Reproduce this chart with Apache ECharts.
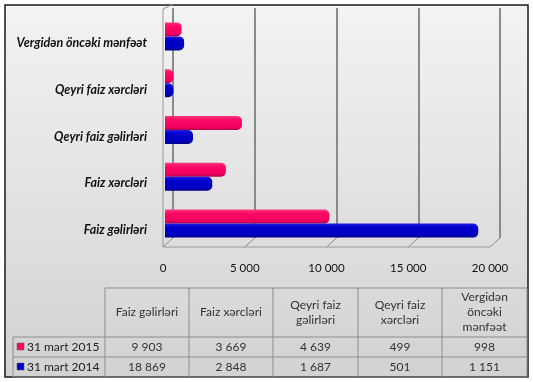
<!DOCTYPE html>
<html><head><meta charset="utf-8">
<script src="https://cdn.jsdelivr.net/npm/echarts@6/dist/echarts.min.js"></script>
<style>html,body{margin:0;padding:0;background:#fff}#c{width:533px;height:382px}</style>
</head><body><div id="c"></div>
<script>
const categories = ['Faiz gəlirləri','Faiz xərcləri','Qeyri faiz gəlirləri','Qeyri faiz xərcləri','Vergidən öncəki mənfəət'];
const tableHeaders = ['Faiz gəlirləri','Faiz xərcləri','Qeyri faiz\ngəlirləri','Qeyri faiz\nxərcləri','Vergidən\nöncəki\nmənfəət'];
const seriesNames = ['31 mart 2015','31 mart 2014'];
const values2015 = [9903,3669,4639,499,998];
const values2014 = [18869,2848,1687,501,1151];
const xTicks = [0,5000,10000,15000,20000];

const fmt = n => String(n).replace(/\B(?=(\d{3})+(?!\d))/g, ' ');
const FONT = 'Lato';
const G0 = {left:165, top:13, width:332, height:234};   // bars (mid-depth)
const G1 = {left:173, top:8, width:327, height:230};    // back wall
const G2 = {left:163, top:13, width:327, height:234};   // front floor edge / tick labels
const xMin = xTicks[0], xMax = xTicks[xTicks.length-1], xInt = xTicks[1]-xTicks[0];

const pinkGrad = new echarts.graphic.LinearGradient(0,0,0,1,[{offset:0,color:'#ff3a80'},{offset:0.25,color:'#ff0a64'},{offset:0.8,color:'#f00060'},{offset:1,color:'#b00044'}]);
const blueGrad = new echarts.graphic.LinearGradient(0,0,0,1,[{offset:0,color:'#2020e8'},{offset:0.25,color:'#0000cc'},{offset:0.8,color:'#0000c0'},{offset:1,color:'#000080'}]);

const chart = echarts.init(document.getElementById('c'), null, {renderer:'canvas'});

// table
const colX = [105,189,273,358,442,527];
const rowY = [288,337,357,377];
const legX = 13;
const tbl = [];
const line = (x1,y1,x2,y2)=>({type:'line',z:5,shape:{x1,y1,x2,y2},style:{stroke:'#8c8c8c',lineWidth:1}});
tbl.push(line(colX[0],rowY[0],colX[5],rowY[0]));
for (let r=1;r<rowY.length;r++) tbl.push(line(legX,rowY[r],colX[5],rowY[r]));
for (let c=0;c<colX.length;c++) tbl.push(line(colX[c],rowY[0],colX[c],rowY[3]));
tbl.push(line(legX,rowY[1],legX,rowY[3]));
tableHeaders.forEach((h,i)=>{
  tbl.push({type:'text',z:6,style:{text:h,x:(colX[i]+colX[i+1])/2,y:(rowY[0]+rowY[1])/2,align:'center',verticalAlign:'middle',font:'12px '+FONT,fill:'#333',lineHeight:15}});
});
const rows = [[seriesNames[0],values2015,'#ff0a64'],[seriesNames[1],values2014,'#0000cc']];
rows.forEach((r,ri)=>{
  const cy=(rowY[ri+1]+rowY[ri+2])/2;
  tbl.push({type:'rect',z:6,shape:{x:legX+4,y:cy-4,width:7,height:7},style:{fill:r[2],stroke:'#555',lineWidth:0.5}});
  tbl.push({type:'text',z:6,style:{text:r[0],x:legX+14,y:cy,align:'left',verticalAlign:'middle',font:'12px '+FONT,fill:'#222'}});
  r[1].forEach((v,i)=>{
    tbl.push({type:'text',z:6,style:{text:fmt(v),x:(colX[i]+colX[i+1])/2,y:cy,align:'center',verticalAlign:'middle',font:'12px '+FONT,fill:'#333'}});
  });
});

const bg = {type:'rect',z:-10,shape:{x:5,y:5,width:523,height:372},
  style:{fill:new echarts.graphic.LinearGradient(0,0,0,1,[{offset:0,color:'#f3f3f3'},{offset:1,color:'#d2d2d2'}]),stroke:'#1a1a1a',lineWidth:1.5}};

const option = {
  animation:false,
  backgroundColor:'#fff',
  grid:[G0,G1,G2],
  xAxis:[
    {type:'value',gridIndex:0,min:xMin,max:xMax,interval:xInt,show:false},
    {type:'value',gridIndex:1,min:xMin,max:xMax,interval:xInt,
     axisLine:{show:false},axisTick:{show:false},axisLabel:{show:false},
     splitLine:{show:true,lineStyle:{color:'#8a8a8a',width:2}}},
    {type:'value',gridIndex:2,min:xMin,max:xMax,interval:xInt,
     axisLine:{show:false},axisTick:{show:false},splitLine:{show:false},
     axisLabel:{margin:15,formatter:v=>fmt(v),color:'#111',fontSize:11.5,fontFamily:FONT}}
  ],
  yAxis:[
    {type:'category',gridIndex:0,show:false,data:categories},
    {type:'value',gridIndex:1,show:false},
    {type:'category',gridIndex:2,data:categories,
     axisLine:{show:false},axisTick:{show:false},
     axisLabel:{margin:16,verticalAlign:'top',color:'#111',fontSize:12.5,fontWeight:'bold',fontStyle:'italic',fontFamily:FONT}}
  ],
  series:[
    {name:seriesNames[0],type:'bar',xAxisIndex:0,yAxisIndex:0,data:values2015,barWidth:14,barGap:'0%',
     itemStyle:{color:pinkGrad,borderRadius:[0,5,5,0]}},
    {name:seriesNames[1],type:'bar',xAxisIndex:0,yAxisIndex:0,data:values2014,barWidth:14,barGap:'0%',
     itemStyle:{color:blueGrad,borderRadius:[0,5,5,0]}}
  ],
  graphic:[bg].concat(tbl)
};
chart.setOption(option);

// 3D floor edges derived from the axes
const frontY = G2.top+G2.height, backY = G1.top+G1.height;
const floor = [];
const fx0 = chart.convertToPixel({xAxisIndex:2}, xMin), fx1 = chart.convertToPixel({xAxisIndex:2}, xMax);
const bx0 = chart.convertToPixel({xAxisIndex:1}, xMin);
floor.push({type:'line',z:1,shape:{x1:fx0,y1:frontY,x2:fx1,y2:frontY},style:{stroke:'#9a9a9a',lineWidth:1}});
floor.push({type:'line',z:1,shape:{x1:fx0,y1:G2.top-4,x2:fx0,y2:frontY},style:{stroke:'#9a9a9a',lineWidth:1}});
xTicks.forEach(t=>{
  const a = chart.convertToPixel({xAxisIndex:2}, t), b = chart.convertToPixel({xAxisIndex:1}, t);
  floor.push({type:'line',z:1,shape:{x1:a,y1:frontY,x2:b,y2:backY},style:{stroke:'#8a8a8a',lineWidth:1}});
});
floor.push({type:'line',z:1,shape:{x1:fx0,y1:G2.top-4,x2:bx0,y2:G1.top-4},style:{stroke:'#8a8a8a',lineWidth:1}});
chart.setOption({graphic:[bg].concat(tbl).concat(floor)});
</script></body></html>
